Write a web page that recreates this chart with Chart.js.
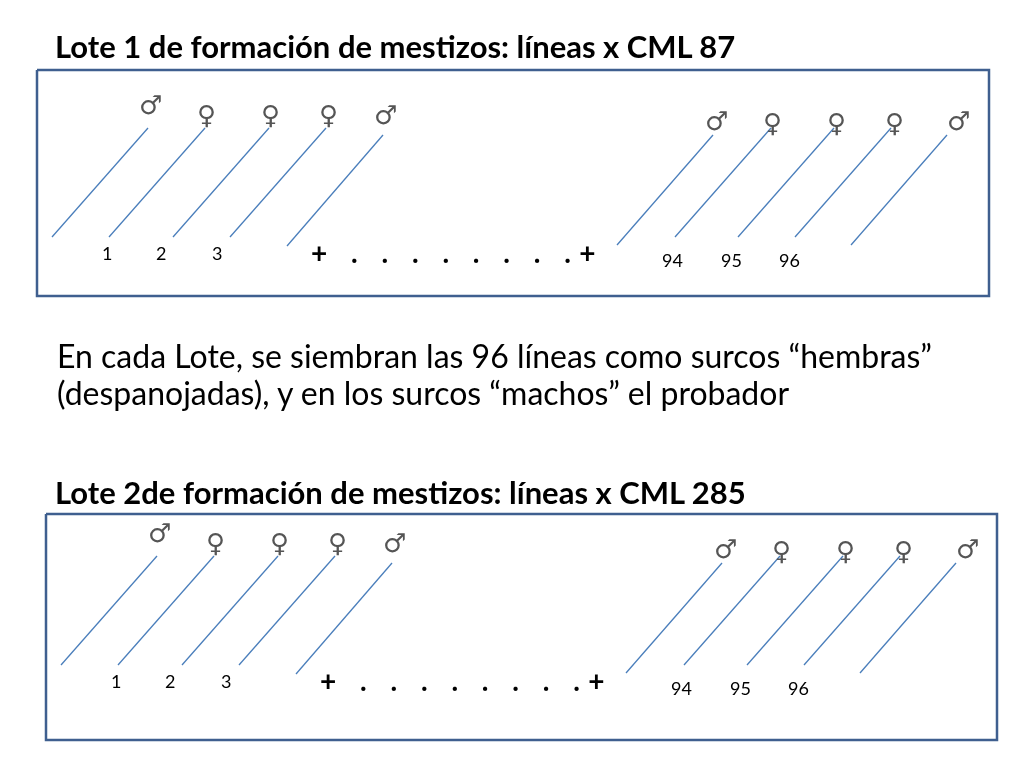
<!DOCTYPE html>
<html><head><meta charset="utf-8">
<script src="https://cdn.jsdelivr.net/npm/chart.js@4"></script>
<style>
body{margin:0;width:1024px;height:768px;background:#fff;position:relative;overflow:hidden;font-family:Lato,"Open Sans",sans-serif}
#wrap{position:absolute;left:0;top:0;width:1024px;height:768px}
.t{position:absolute;white-space:nowrap;color:#000}
</style></head><body>
<div id="wrap"><canvas id="c" width="1024" height="768"></canvas></div>
<script>
// Diagram data (slide coordinates)
const titles = ["Lote 1 de formación de mestizos: líneas x CML 87","Lote 2de formación de mestizos: líneas x CML 285"];
const paragraph = ["En cada Lote, se siembran las 96 líneas como surcos “hembras”","(despanojadas), y  en los surcos “machos” el probador"];
const lotOffsetsX = [0, 9];
const lotOffsetsY = [0, 428];
const boxes = [[37,70,989,296],[46,514,997,740]];
const rowLines = [[52,237,148,128],[109,237,205,128],[173,237,269,128],[230,237,326,128],[287,246,383,135],
                  [617,245,713,135],[675,237,771,128],[738,237,834,128],[795,237,891,128],[851,245,947,135]];
const rowSymbols = ["♂","♀","♀","♀","♂","♂","♀","♀","♀","♂"];
const symbolPos = [[150,106],[208,116],[272,116],[330,116],[385,116],[716,122],[774,124],[838,124],[896,124],[958,122]];
const rowLabels = ["1","2","3","94","95","96"];
const labelPos = [[107,253],[161,253],[217,253],[672,260],[731,260],[789,260]];
const dotsText = "+ . . . . . . . .+";

const ds=[];
boxes.forEach(b=>ds.push({data:[{x:b[0],y:b[1]},{x:b[2],y:b[1]},{x:b[2],y:b[3]},{x:b[0],y:b[3]},{x:b[0],y:b[1]}],borderColor:'#3f5f8f',borderWidth:2.5,pointRadius:0,fill:false}));
lotOffsetsX.forEach((ox,i)=>{const oy=lotOffsetsY[i];
  rowLines.forEach(l=>ds.push({data:[{x:l[0]+ox,y:l[1]+oy},{x:l[2]+ox,y:l[3]+oy}],borderColor:'#4a7ebb',borderWidth:1.3,pointRadius:0,fill:false}));
});
new Chart(document.getElementById('c'),{type:'line',data:{datasets:ds},
 options:{responsive:false,animation:false,layout:{padding:0},
  plugins:{legend:{display:false},tooltip:{enabled:false}},
  scales:{x:{type:'linear',min:0,max:1024,display:false},y:{type:'linear',min:0,max:768,reverse:true,display:false}}}});

function addText(txt,x,y,css){const d=document.createElement('div');d.className='t';d.textContent=txt;d.style.cssText+=`left:${x}px;top:${y}px;`+css;document.body.appendChild(d);}
addText(titles[0],55,27,'font-size:31px;font-weight:bold');
addText(titles[1],55,473,'font-size:31px;font-weight:bold');
addText(paragraph[0],57,336,'font-size:32px');
addText(paragraph[1],57,373,'font-size:32px');
lotOffsetsX.forEach((ox,i)=>{const oy=lotOffsetsY[i];
  rowSymbols.forEach((s,k)=>addText(s,symbolPos[k][0]+ox-11,symbolPos[k][1]+oy-16,'font-size:26px;color:#555;font-family:"DejaVu Sans"'));
  rowLabels.forEach((s,k)=>addText(s,labelPos[k][0]+ox-(s.length*5),labelPos[k][1]+oy-11,'font-size:18px'));
  addText(dotsText,311+ox,235+oy,'font-size:28px;font-weight:bold;letter-spacing:8.5px');
});
</script></body></html>
